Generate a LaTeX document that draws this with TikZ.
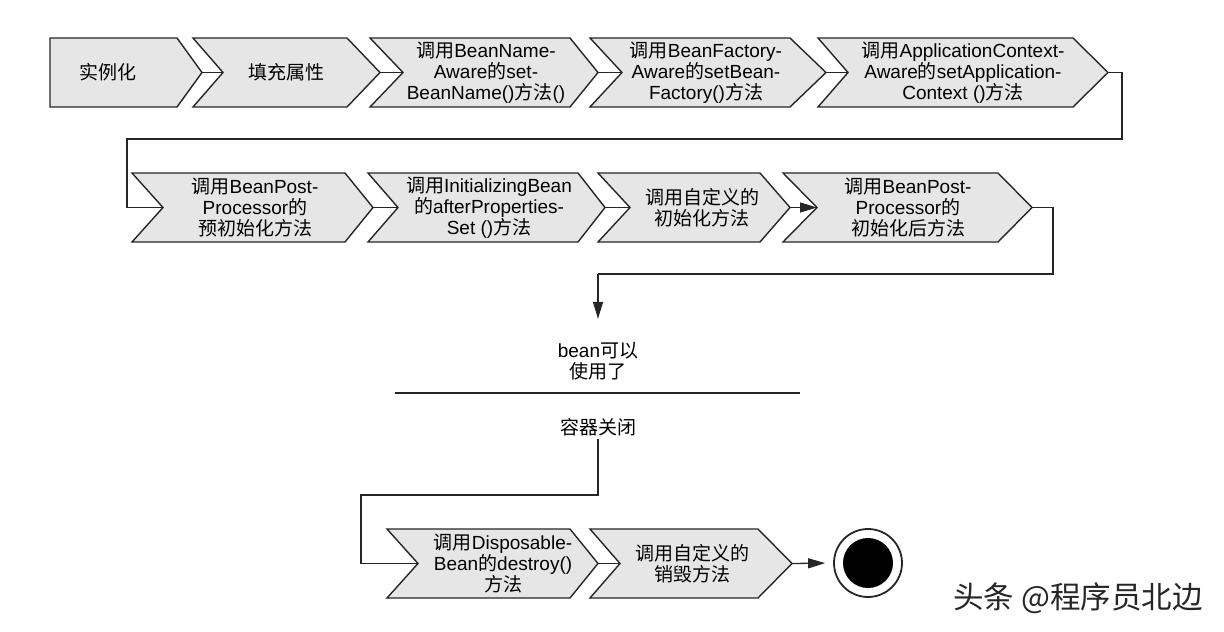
\documentclass[tikz,border=0pt]{standalone}
\usepackage{fontspec}
\setmainfont{Liberation Sans}
\newfontfamily\cjkfont{Noto Sans CJK SC}
\newcommand\zh[1]{{\cjkfont #1}}
\usetikzlibrary{arrows.meta}
\definecolor{shapefill}{HTML}{E6E6E6}
\definecolor{edgecol}{HTML}{262626}
\tikzset{
  chev/.style={draw=edgecol, fill=shapefill, line width=1.4pt, line join=miter},
  lbl/.style={align=center, inner sep=2pt, font=\fontsize{19}{21}\selectfont, text=black},
  conn/.style={draw=edgecol, line width=1.3pt},
  arr/.style={conn, -{Triangle[length=17pt,width=10pt]}},
}
% #1 name, #2 left x, #3 notch depth, #4 top-right x, #5 tip x, #6 top y, #7 bottom y
\newcommand\mkchev[7]{%
  \draw[chev] (#2,#6) -- (#4,#6) -- (#5,{(#6+#7)/2}) -- (#4,#7) -- (#2,#7) -- ({#2+#3},{(#6+#7)/2}) -- cycle;
  \coordinate (#1-in) at ({#2+#3},{(#6+#7)/2});
  \coordinate (#1-out) at (#5,{(#6+#7)/2});
}
\begin{document}
\begin{tikzpicture}[x=1pt,y=-1pt]
\useasboundingbox[fill=white] (0,0) rectangle (1224,632);

% ---- row 1 ----
\mkchev{s1}{50}{0}{177}{202}{38}{107}
\mkchev{s2}{193}{30}{347}{380}{38}{107}
\mkchev{s3}{370}{33}{570}{598}{38}{107}
\mkchev{s4}{590}{32}{790}{826}{38}{107}
\mkchev{s5}{818}{30}{1073}{1108}{38}{107}
\node[lbl] (t1) at (108,72.5) {\zh{实例化}};
\node[lbl] (t2) at (286,72.5) {\zh{填充属性}};
\node[lbl] (t3) at (486,72.5) {\zh{调用}BeanName-\\Aware\zh{的}set-\\BeanName()\zh{方法}()};
\node[lbl] (t4) at (706,72.5) {\zh{调用}BeanFactory-\\Aware\zh{的}setBean-\\Factory()\zh{方法}};
\node[lbl] (t5) at (963,72.5) {\zh{调用}ApplicationContext-\\Aware\zh{的}setApplication-\\Context ()\zh{方法}};

% ---- row 2 ----
\mkchev{s6}{132}{31}{345}{373}{173}{242}
\mkchev{s7}{368}{30}{578}{605}{173}{242}
\mkchev{s8}{598}{32}{760}{790}{173}{242}
\mkchev{s9}{783}{34}{998}{1032}{173}{242}
\node[lbl] (t6) at (255,207.5) {\zh{调用}BeanPost-\\Processor\zh{的}\\\zh{预初始化方法}};
\node[lbl] (t7) at (489,207.5) {\zh{调用}InitializingBean\\\zh{的}afterProperties-\\Set ()\zh{方法}};
\node[lbl] (t8) at (702,207.5) {\zh{调用自定义的}\\\zh{初始化方法}};
\node[lbl] (t9) at (908,207.5) {\zh{调用}BeanPost-\\Processor\zh{的}\\\zh{初始化后方法}};

% ---- row 3 ----
\mkchev{s10}{387}{31}{570}{598}{529}{598}
\mkchev{s11}{590}{30}{758}{792}{529}{598}
\node[lbl] (t10) at (503,563.5) {\zh{调用}Disposable-\\Bean\zh{的}destroy()\\\zh{方法}};
\node[lbl] (t11) at (692,563.5) {\zh{调用自定义的}\\\zh{销毁方法}};

% ---- middle texts ----
\node[lbl, inner sep=3pt] (bean) at (598,361) {bean\zh{可以}\\\zh{使用了}};
\node[lbl, inner sep=3pt] (close) at (598,427) {\zh{容器关闭}};
\coordinate (barL) at (395,393);
\coordinate (barR) at (800,393);
\draw[conn] (barL) -- (barR);

% ---- end state ----
\node[circle, draw=edgecol, line width=1.8pt, fill=white, minimum size=68pt, inner sep=0pt] (endc) at (868,563) {};
\node[circle, fill=black, minimum size=50pt, inner sep=0pt] (endi) at (868,563) {};

% ---- connectors ----
\coordinate (r1) at (1122,139);
\coordinate (l1) at (127,139);
\coordinate (r2) at (1053,274);
\coordinate (c2) at (598,274);
\coordinate (c3) at (598,495);
\coordinate (c4) at (361,495);

\draw[conn] (s1-out) -- (s2-in);
\draw[conn] (s2-out) -- (s3-in);
\draw[conn] (s3-out) -- (s4-in);
\draw[conn] (s4-out) -- (s5-in);
\draw[conn] (s5-out) -| (r1) -- (l1) |- (s6-in);
\draw[conn] (s6-out) -- (s7-in);
\draw[conn] (s7-out) -- (s8-in);
\draw[arr] (s8-out) -- (s9-in);
\draw[conn] (s9-out) -| (r2) -- (c2);
\draw[arr, shorten >=20pt] (c2) -- (bean.north);
\draw[conn] (close.south) -- (c3) -- (c4) |- (s10-in);
\draw[conn] (s10-out) -- (s11-in);
\draw[arr, shorten >=8pt] (s11-out) -- (endc.west);

% ---- watermark ----
\node[text=black!85, font=\fontsize{30.5}{32}\selectfont\cjkfont, inner sep=0pt] (wm) at (1078,598) {头条 @程序员北边};
\end{tikzpicture}
\end{document}
